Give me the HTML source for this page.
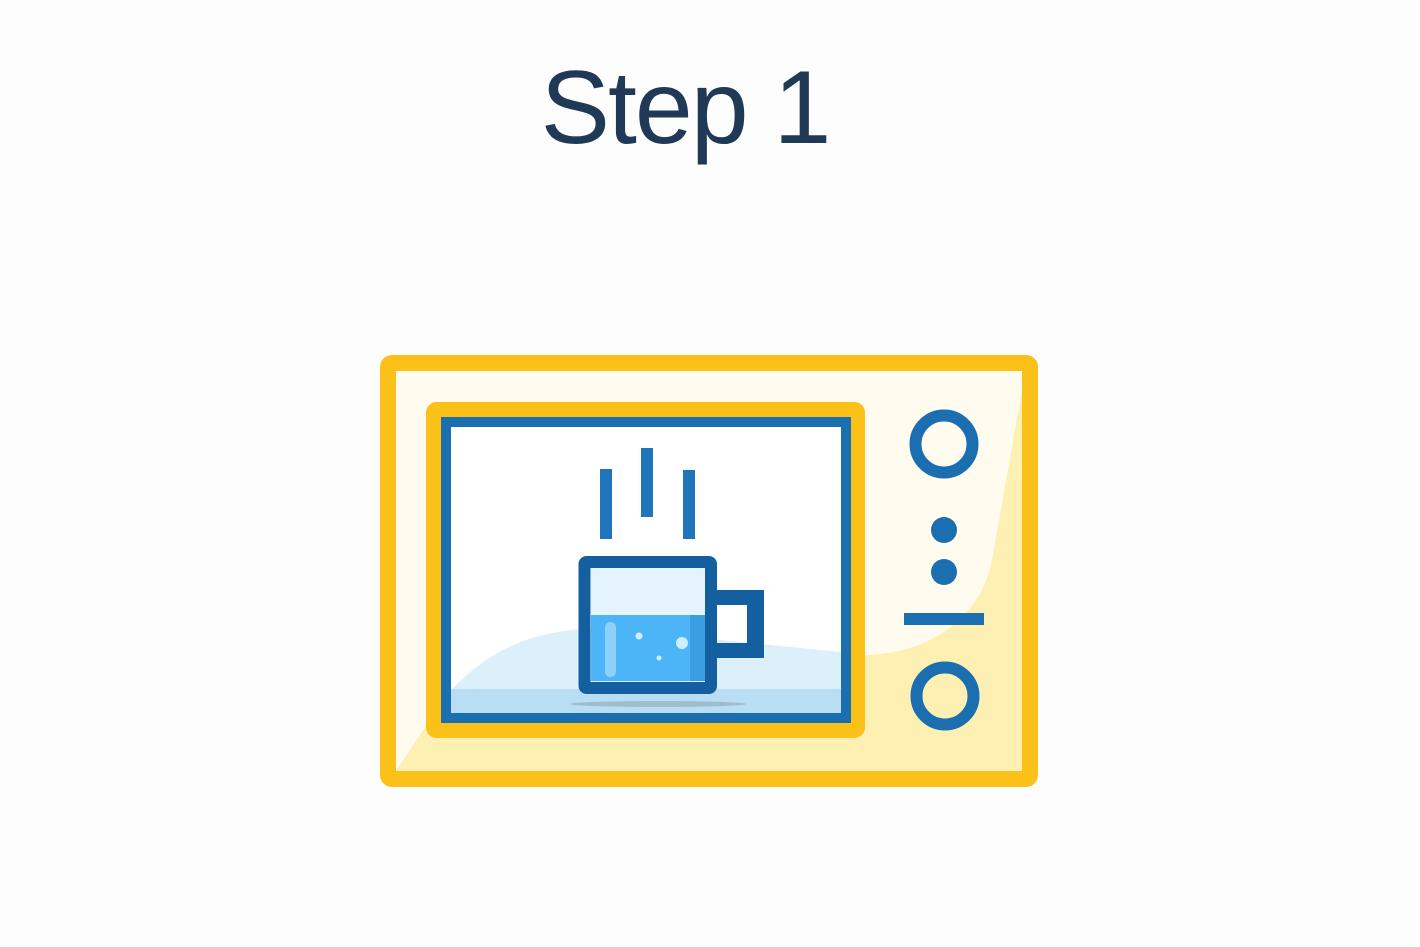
<!DOCTYPE html>
<html><head><meta charset="utf-8"><style>
html,body{margin:0;padding:0;background:#fdfdfd;}
svg{display:block;}
</style></head><body>
<svg width="1420" height="947" viewBox="0 0 1420 947" xmlns="http://www.w3.org/2000/svg">
<rect width="1420" height="947" fill="#fdfdfd"/>
<text x="685" y="143" text-anchor="middle" font-family="Liberation Sans, sans-serif" font-size="104" letter-spacing="-2" fill="#1f3957">Step 1</text>
<!-- body -->
<rect x="388" y="363" width="642" height="416" fill="#fffcef"/>
<path d="M396 771 L430 720 L870 655 C950 650 985 600 992 560 L1022 390 L1022 771 Z" fill="#fdf0b2"/>
<rect x="388" y="363" width="642" height="416" rx="4" fill="none" stroke="#fcc118" stroke-width="16"/>
<!-- door -->
<rect x="433.5" y="409.5" width="424" height="321" rx="3" fill="none" stroke="#fcc118" stroke-width="15"/>
<rect x="446" y="422" width="400" height="296" fill="#ffffff" stroke="#1a6fb0" stroke-width="10"/>
<path d="M451 713 L451 690 C490 650 530 630 600 628 L720 640 L841 652 L841 713 Z" fill="#dcf0fb"/>
<rect x="451" y="689" width="390" height="24" fill="#b9def3"/>
<ellipse cx="658" cy="704" rx="88" ry="3" fill="#9fbdd0"/>
<!-- steam -->
<rect x="600" y="469" width="12" height="70" fill="#1f74bb"/>
<rect x="641" y="448" width="12" height="69" fill="#1f74bb"/>
<rect x="683" y="470" width="12" height="69" fill="#1f74bb"/>
<!-- mug -->
<rect x="591" y="568" width="114" height="113" fill="#e4f3fc"/>
<rect x="591" y="615" width="114" height="66" fill="#4bb5f8"/>
<rect x="690" y="615" width="15" height="66" fill="#3a9fe0"/>
<rect x="605" y="622" width="11" height="55" rx="5" fill="#8fd0fb"/>
<circle cx="639" cy="636" r="3.5" fill="#cfeeff"/>
<circle cx="682" cy="643" r="6" fill="#cfeeff"/>
<circle cx="659" cy="658" r="2.5" fill="#cfeeff"/>
<rect x="584.5" y="562" width="126.5" height="126" rx="2" fill="none" stroke="#135fa0" stroke-width="12"/>
<path d="M711 590 H764 V658 H711 V643 H747 V605 H711 Z" fill="#135fa0"/>
<!-- controls -->
<circle cx="944" cy="444" r="28.5" fill="none" stroke="#1b6fb0" stroke-width="12"/>
<circle cx="944" cy="530" r="13" fill="#1b6fb0"/>
<circle cx="944" cy="572" r="13" fill="#1b6fb0"/>
<rect x="904" y="613" width="80" height="12" fill="#1b6fb0"/>
<circle cx="945" cy="696" r="28.5" fill="none" stroke="#1b6fb0" stroke-width="12"/>
</svg>
</body></html>
